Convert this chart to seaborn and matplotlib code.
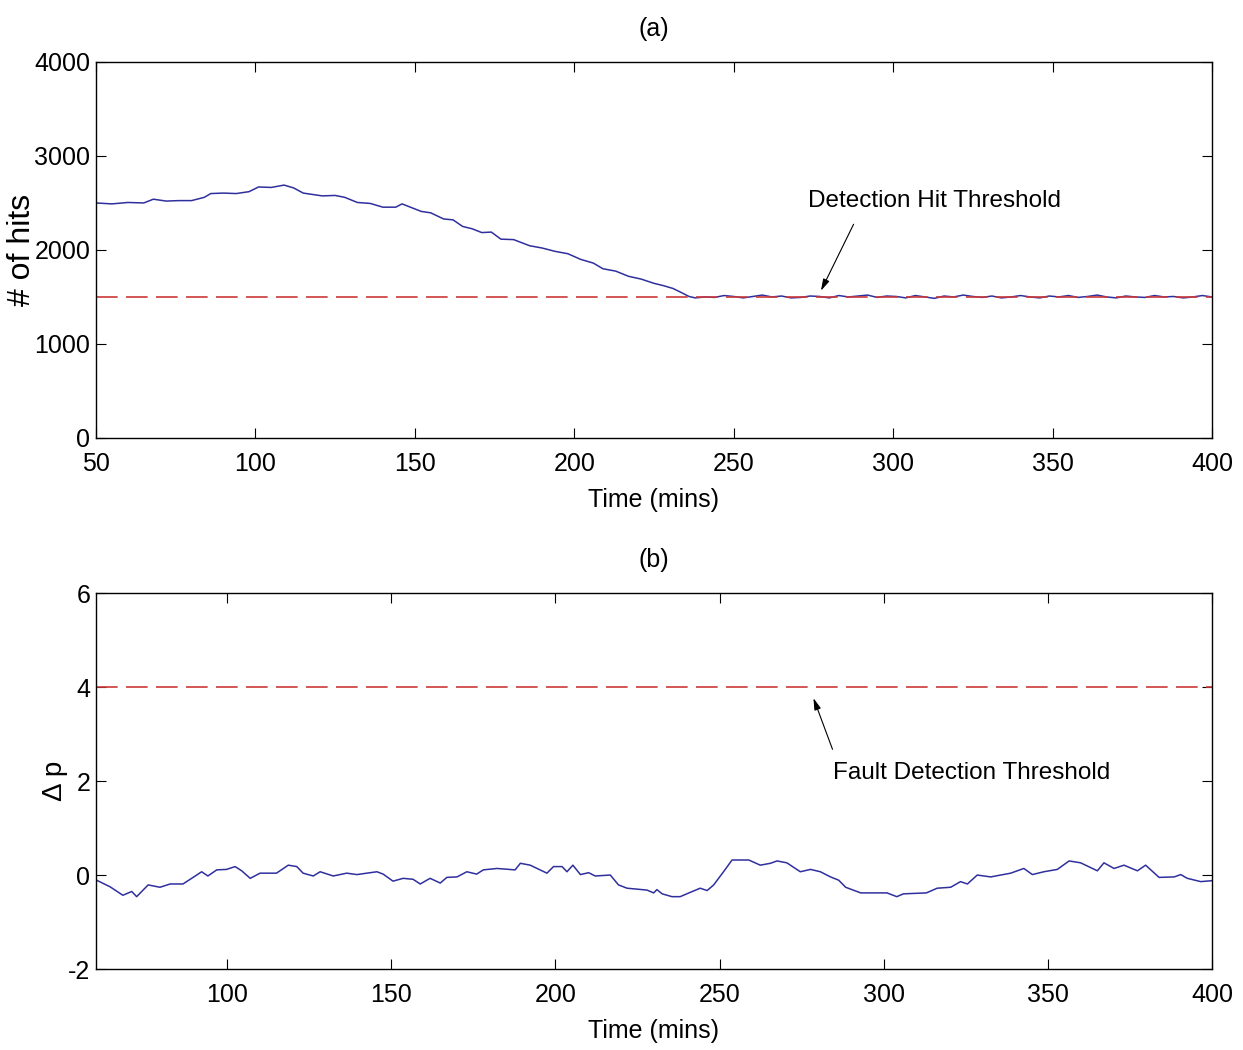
import matplotlib
matplotlib.use("Agg")
import matplotlib.pyplot as plt
import seaborn as sns
import pandas as pd

# ---- data: panel (a) ----
time_a = [50, 55, 60, 65, 68, 72, 76, 80, 84, 86, 90, 94, 98, 101, 105, 109, 112, 115,
          118, 121, 125, 128, 132, 136, 140, 144, 146, 149, 152, 155, 159, 162, 165, 168,
          171, 174, 177, 181, 186, 190, 194, 198, 202, 206, 209, 213, 217, 221, 225, 228,
          231, 234, 236, 238,
          241, 244, 247, 250, 253, 256, 259, 262, 265, 268, 271, 274, 277, 280, 283, 286,
          289, 292, 295, 298, 301, 304, 307, 310, 313, 316, 319, 322, 325, 328, 331, 334,
          337, 340, 343, 346, 349, 352, 355, 358, 361, 364, 367, 370, 373, 376, 379, 382,
          385, 388, 391, 394, 397, 400]
hits_a = [2500, 2490, 2505, 2500, 2540, 2520, 2525, 2525, 2560, 2600, 2605, 2600, 2620, 2670,
          2665, 2690, 2660, 2605, 2590, 2575, 2580, 2560, 2505, 2495, 2455, 2455, 2490, 2450,
          2410, 2395, 2330, 2320, 2250, 2225, 2185, 2190, 2115, 2110, 2045, 2020, 1985, 1960,
          1900, 1860, 1800, 1775, 1720, 1690, 1645, 1620, 1590, 1540, 1505, 1490,
          1500, 1495, 1515, 1505, 1490, 1505, 1520, 1500, 1510, 1490, 1495, 1510, 1505, 1490,
          1515, 1500, 1510, 1520, 1495, 1510, 1505, 1490, 1515, 1500, 1485, 1510, 1500, 1520,
          1505, 1495, 1510, 1490, 1500, 1515, 1500, 1490, 1510, 1500, 1515, 1495, 1505, 1520,
          1500, 1490, 1510, 1500, 1495, 1515, 1500, 1505, 1490, 1500, 1515, 1500]
hit_threshold = 1500
xticks_a = [50, 100, 150, 200, 250, 300, 350, 400]
yticks_a = [0, 1000, 2000, 3000, 4000]

# ---- data: panel (b) ----
time_b = [60.2, 64.3, 68.2, 70.9, 72.4, 75.9, 79.5, 82.6, 86.5, 89.6, 92.2, 94.1, 96.8, 99.8,
          102.4, 104.4, 107, 110, 115, 118.6, 121.2, 123.1, 126.2, 128.3, 132.3, 136.4, 139.5,
          145.6, 147.5, 150.5, 153.6, 156.6, 158.8, 161.8, 164.9, 166.9, 170, 173, 176, 178,
          182.2, 187.7, 189.3, 192.3, 197.4, 199.4, 202, 203.5, 205.3, 207.6, 210.1, 212.1,
          216.7, 219.2, 221.8, 227.9, 229.9, 230.9, 232.5, 235.5, 238, 240, 244.1, 246.2,
          248.2, 251.2, 253.8, 258.9, 262.4, 265.5, 267.5, 270.5, 274.6, 277.7, 280.7, 283.8,
          286.3, 288.4, 293, 301, 304, 306, 313, 316.3, 320.4, 323.4, 325.5, 328.5, 332.6,
          338.7, 342.7, 345.3, 348.8, 352.9, 356.5, 360, 365.1, 367.1, 370.2, 373.2, 377.3,
          379.8, 383.9, 388.5, 390.5, 392.5, 396.6, 400]
dp_b = [-0.11, -0.25, -0.43, -0.35, -0.46, -0.21, -0.26, -0.19, -0.19, -0.05, 0.07, -0.02,
        0.11, 0.12, 0.18, 0.09, -0.07, 0.04, 0.04, 0.21, 0.18, 0.04, -0.02, 0.07, -0.02, 0.04,
        0.01, 0.07, 0.02, -0.13, -0.07, -0.09, -0.19, -0.07, -0.17, -0.05, -0.04, 0.07, 0.02,
        0.11, 0.14, 0.11, 0.25, 0.21, 0.04, 0.18, 0.18, 0.07, 0.21, 0.01, 0.05, -0.02, 0.0,
        -0.21, -0.28, -0.32, -0.38, -0.31, -0.40, -0.46, -0.46, -0.40, -0.28, -0.33, -0.21,
        0.07, 0.32, 0.32, 0.21, 0.25, 0.30, 0.26, 0.07, 0.12, 0.07, -0.04, -0.11, -0.26,
        -0.38, -0.38, -0.46, -0.40, -0.38, -0.28, -0.26, -0.14, -0.19, 0.0, -0.04, 0.04,
        0.14, 0.01, 0.07, 0.12, 0.30, 0.26, 0.09, 0.26, 0.14, 0.21, 0.09, 0.21, -0.05, -0.04,
        0.01, -0.07, -0.14, -0.12]
fault_threshold = 4
xticks_b = [100, 150, 200, 250, 300, 350, 400]
yticks_b = [-2, 0, 2, 4, 6]

df_a = pd.DataFrame({"time": time_a, "hits": hits_a})
df_b = pd.DataFrame({"time": time_b, "dp": dp_b})

sns.set_style("ticks")
plt.rcParams["font.family"] = ["Liberation Sans", "DejaVu Sans"]
plt.rcParams["xtick.direction"] = "in"
plt.rcParams["ytick.direction"] = "in"
plt.rcParams["xtick.major.size"] = 7
plt.rcParams["ytick.major.size"] = 7
plt.rcParams["axes.edgecolor"] = "black"
plt.rcParams["axes.linewidth"] = 1.0
for k in ("text.color", "axes.labelcolor", "xtick.color", "ytick.color"):
    plt.rcParams[k] = "black"

FS = 18
BLUE = "#2f2f9e"
RED = "#cc3a3a"

fig = plt.figure(figsize=(12.43, 10.5), dpi=100)
ax1 = fig.add_axes([0.0772, 0.5829, 0.8978, 0.3581])
ax2 = fig.add_axes([0.0772, 0.0771, 0.8978, 0.3581])

# panel (a)
sns.lineplot(data=df_a, x="time", y="hits", ax=ax1, color=BLUE, linewidth=1.1)
ax1.axhline(hit_threshold, color=RED, linewidth=1.2, dashes=(13, 5))
ax1.set_xlim(50, 400)
ax1.set_ylim(0, 4000)
ax1.set_xticks(xticks_a)
ax1.set_yticks(yticks_a)
ax1.set_xticklabels([str(v) for v in xticks_a], fontsize=FS)
ax1.set_yticklabels([str(v) for v in yticks_a], fontsize=FS)
ax1.tick_params(axis="x", top=True, pad=10)
ax1.tick_params(axis="y", right=True, pad=4)
ax1.set_xlabel("Time (mins)", fontsize=FS, labelpad=9)
ax1.set_ylabel("# of hits", fontsize=23, va="center")
ax1.yaxis.set_label_coords(-0.066, 0.5)
ax1.set_title("(a)", fontsize=FS, pad=19)
ax1.annotate("", xy=(277, 1540), xytext=(288, 2300),
             arrowprops=dict(arrowstyle="-|>,head_length=0.7,head_width=0.2", color="black", lw=0.8))
ax1.text(273.3, 2521, "Detection Hit Threshold", fontsize=17.5, va="center", ha="left")

# panel (b)
sns.lineplot(data=df_b, x="time", y="dp", ax=ax2, color=BLUE, linewidth=1.1)
ax2.axhline(fault_threshold, color=RED, linewidth=1.2, dashes=(13, 5))
ax2.set_xlim(60, 400)
ax2.set_ylim(-2, 6)
ax2.set_xticks(xticks_b)
ax2.set_yticks(yticks_b)
ax2.set_xticklabels([str(v) for v in xticks_b], fontsize=FS)
ax2.set_yticklabels([str(v) for v in yticks_b], fontsize=FS)
ax2.tick_params(axis="x", top=True, pad=10)
ax2.tick_params(axis="y", right=True, pad=4)
ax2.set_xlabel("Time (mins)", fontsize=FS, labelpad=9)
ax2.set_ylabel("\u0394 p", fontsize=20, va="center")
ax2.yaxis.set_label_coords(-0.037, 0.5)
ax2.set_title("(b)", fontsize=FS, pad=19)
ax2.annotate("", xy=(278.3, 3.82), xytext=(284.7, 2.62),
             arrowprops=dict(arrowstyle="-|>,head_length=0.7,head_width=0.2", color="black", lw=0.8))
ax2.text(284.7, 2.17, "Fault Detection Threshold", fontsize=17.5, va="center", ha="left")

for ax in (ax1, ax2):
    for s in ax.spines.values():
        s.set_visible(True)
        s.set_color("black")

fig.savefig("out.png", dpi=100, facecolor="white")
